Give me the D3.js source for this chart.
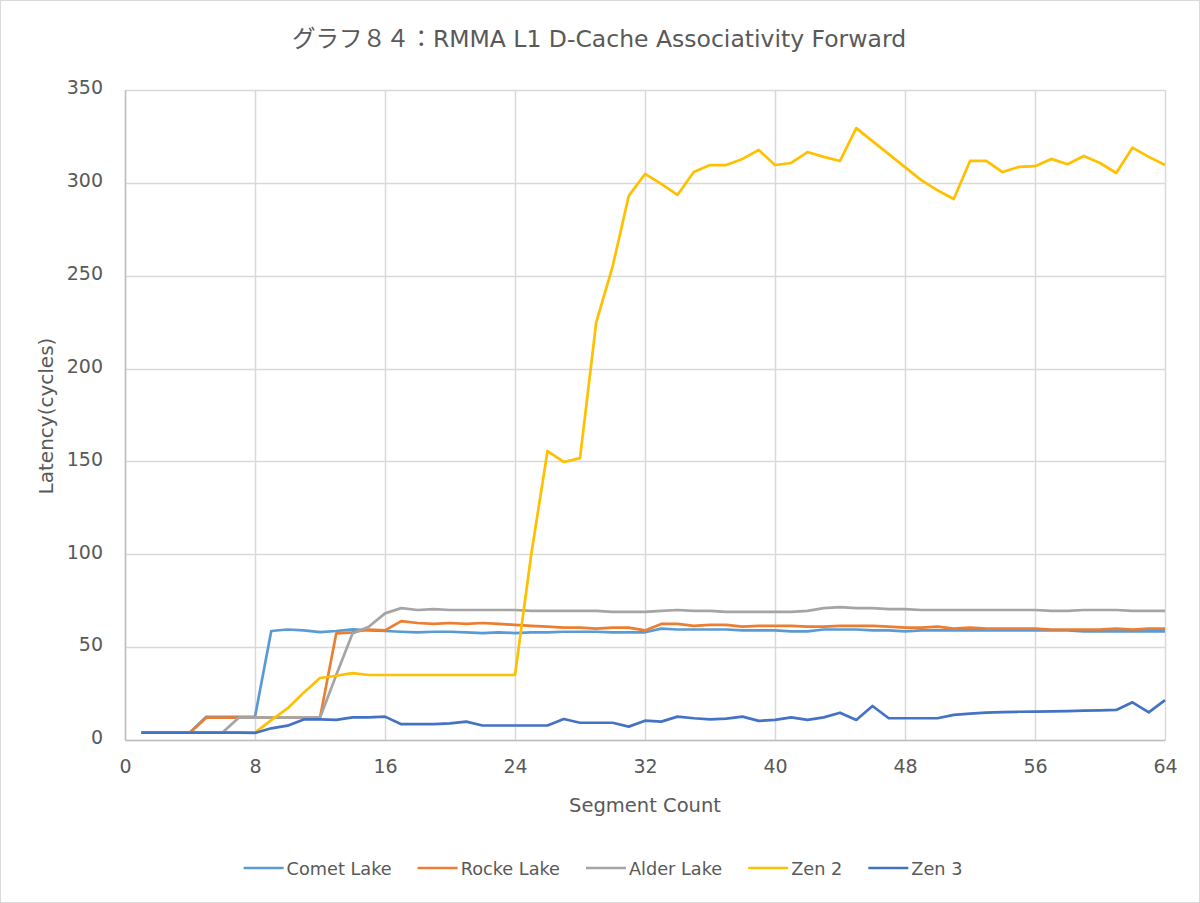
<!DOCTYPE html>
<html><head><meta charset="utf-8">
<script src="https://cdn.jsdelivr.net/npm/d3@7/dist/d3.min.js"></script>
<style>body{margin:0;background:#fff;} svg{display:block;}</style>
</head><body>
<svg id="chart" width="1200" height="903"></svg>
<script>
const titleText = "グラフ８４：RMMA L1 D-Cache Associativity Forward";
const xAxisTitle = "Segment Count";
const yAxisTitle = "Latency(cycles)";
const xTicks = [0, 8, 16, 24, 32, 40, 48, 56, 64];
const yTicks = [0, 50, 100, 150, 200, 250, 300, 350];
const segments = d3.range(1, 65);
const seriesNames = ["Comet Lake", "Rocke Lake", "Alder Lake", "Zen 2", "Zen 3"];
const seriesColors = ["#5B9BD5", "#ED7D31", "#A5A5A5", "#FFC000", "#4472C4"];

const cometLake = [4,4,4,4,12.5,12.5,12.5,12.5,58.7,59.5,59,58.1,58.7,59.6,59,58.7,
  58.3,58,58.3,58.3,58,57.6,58,57.6,58,58,58.3,58.3,58.3,58,58,58,
  60,59.5,59.5,59.5,59.5,59,59,59,58.5,58.5,59.5,59.5,59.5,59,59,58.5,
  59,59,59,59,59,59,59,59,59,59,58.5,58.5,58.5,58.5,58.5,58.5];
const rockeLake = [4,4,4,4,12,12,12,12,12,12,12,12,57.4,58,59.5,59,
  64,63,62.5,63,62.5,63,62.5,62,61.5,61,60.5,60.5,60,60.5,60.5,59,
  62.5,62.5,61.5,62,62,61,61.5,61.5,61.5,61,61,61.5,61.5,61.5,61,60.5,
  60.5,61,60,60.5,60,60,60,60,59.5,59.5,59.5,59.5,60,59.5,60,60];
const alderLake = [4,4,4,4,4,4,12,12,12,12,12,12,35,57.4,61,68.2,
  71,70,70.5,70,70,70,70,70,69.5,69.5,69.5,69.5,69.5,69,69,69,
  69.5,70,69.5,69.5,69,69,69,69,69,69.5,71,71.5,71,71,70.5,70.5,
  70,70,70,70,70,70,70,70,69.5,69.5,70,70,70,69.5,69.5,69.5];
const zen2 = [4,4,4,4,4,4,4,4,10.7,17,25.5,33.4,34.6,36,35,35,
  35,35,35,35,35,35,35,35,100,155.6,149.7,151.8,225,254.7,293,304.8,
  299.4,293.5,305.8,309.6,309.6,312.9,317.7,309.6,310.7,316.6,314,311.8,329.5,322.5,315.5,308.5,
  301.5,296,291.3,311.8,311.8,305.8,308.6,309,312.9,310,314.5,310.7,305.3,319,314,309.6];
const zen3 = [4,4,4,4,4,4,4,3.8,6.3,7.7,11.1,11.1,10.8,12.2,12.2,12.6,
  8.5,8.5,8.5,9,9.9,7.8,7.8,7.8,7.8,7.8,11.3,9.3,9.3,9.3,7.2,10.4,
  9.9,12.6,11.7,11.1,11.5,12.6,10.3,10.8,12.2,10.8,12.2,14.7,10.8,18.3,11.7,11.7,
  11.7,11.7,13.5,14.2,14.7,15,15.2,15.3,15.4,15.6,15.8,16,16.2,20.3,14.9,21.5];
const seriesValues = [cometLake, rockeLake, alderLake, zen2, zen3];

const svg = d3.select("#chart");
const W = 1200, H = 903;
const font = "'DejaVu Sans', 'Noto Sans CJK JP', sans-serif";
const textColor = "#595959";

svg.append("rect").attr("x", 0.5).attr("y", 0.5).attr("width", W - 1).attr("height", H - 1)
  .attr("fill", "#fff").attr("stroke", "#d9d9d9");

const m = {left: 125, right: 1165, top: 90, bottom: 740};
const x = d3.scaleLinear().domain([0, 64]).range([m.left, m.right]);
const y = d3.scaleLinear().domain([0, 350]).range([m.bottom, m.top]);

// gridlines
const grid = svg.append("g");
grid.selectAll("line.h").data(yTicks).join("line")
  .attr("x1", m.left).attr("x2", m.right)
  .attr("y1", d => Math.round(y(d)) + 0.5).attr("y2", d => Math.round(y(d)) + 0.5)
  .attr("stroke", "#d9d9d9").attr("stroke-width", 1.5);
grid.selectAll("line.v").data(xTicks).join("line")
  .attr("y1", m.top).attr("y2", m.bottom)
  .attr("x1", d => Math.round(x(d)) + 0.5).attr("x2", d => Math.round(x(d)) + 0.5)
  .attr("stroke", "#d9d9d9").attr("stroke-width", 1.5);

// axes
const xAxis = svg.append("g").attr("transform", `translate(0,${m.bottom})`)
  .call(d3.axisBottom(x).tickValues(xTicks).tickSize(0).tickPadding(20));
const yAxis = svg.append("g").attr("transform", `translate(${m.left},0)`)
  .call(d3.axisLeft(y).tickValues(yTicks).tickSize(0).tickPadding(22));
[xAxis, yAxis].forEach(a => {
  a.select(".domain").attr("stroke", "#bfbfbf").attr("stroke-width", 1.5);
  a.selectAll("text").attr("font-family", font).attr("font-size", 19).attr("fill", textColor);
});
yAxis.selectAll("text").attr("dy", "0.2em");

// lines
const line = d3.line().x((d, i) => x(segments[i])).y(d => y(d));
svg.append("g").selectAll("path").data(seriesValues).join("path")
  .attr("d", d => line(d))
  .attr("fill", "none")
  .attr("stroke", (d, i) => seriesColors[i])
  .attr("stroke-width", 2.7)
  .attr("stroke-linejoin", "round");

// title
svg.append("text").attr("x", 599).attr("y", 47).attr("text-anchor", "middle")
  .attr("font-family", font).attr("font-size", 23.5).attr("fill", textColor).text(titleText);

// axis titles
svg.append("text").attr("x", 645).attr("y", 812).attr("text-anchor", "middle")
  .attr("font-family", font).attr("font-size", 19.5).attr("fill", textColor).text(xAxisTitle);
svg.append("text").attr("transform", "translate(53,416) rotate(-90)").attr("text-anchor", "middle")
  .attr("font-family", font).attr("font-size", 20).attr("fill", textColor).text(yAxisTitle);

// legend
const legendY = 868;
const legend = svg.append("g");
const items = legend.selectAll("g").data(seriesNames).join("g");
items.append("line").attr("x1", 0).attr("x2", 40).attr("y1", 0).attr("y2", 0)
  .attr("stroke", (d, i) => seriesColors[i]).attr("stroke-width", 2.7);
items.append("text").attr("x", 43).attr("y", 6.5)
  .attr("font-family", font).attr("font-size", 17.7).attr("fill", textColor).text(d => d);
const widths = [];
items.each(function() { widths.push(this.getBBox().width); });
const gap = 26;
const total = d3.sum(widths) + gap * (widths.length - 1);
let cx = 603 - total / 2;
items.attr("transform", (d, i) => {
  const t = `translate(${cx},${legendY})`;
  cx += widths[i] + gap;
  return t;
});
</script>
</body></html>
